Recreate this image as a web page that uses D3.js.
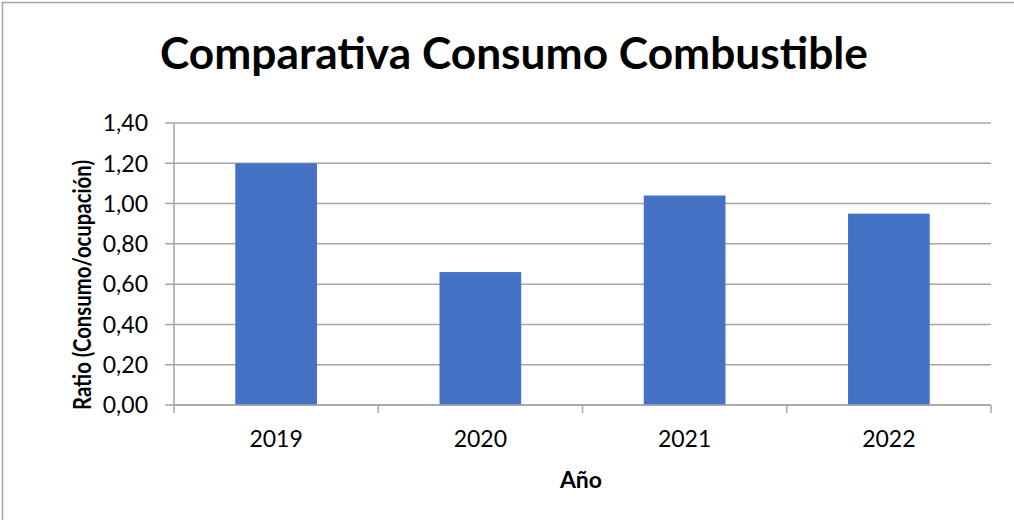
<!DOCTYPE html>
<html>
<head>
<meta charset="utf-8">
<script src="https://cdn.jsdelivr.net/npm/d3@7"></script>
<style>
  body { margin: 0; background: #fff; }
  svg { display: block; }
  text { font-family: Lato, "Open Sans", sans-serif; fill: #000; }
</style>
</head>
<body>
<svg id="svg" width="1014" height="520"></svg>
<script>
// DATA
var years = ["2019", "2020", "2021", "2022"];
var ratios = [1.20, 0.66, 1.04, 0.95];
var yTicks = [0, 0.2, 0.4, 0.6, 0.8, 1.0, 1.2, 1.4];

var svg = d3.select("#svg"),
  margin = { top: 123, right: 23, bottom: 115, left: 174 },
  width = 1014 - margin.left - margin.right,
  height = 520 - margin.top - margin.bottom;

// chart frame
svg.append("rect")
  .attr("x", 2.5).attr("y", 2.5)
  .attr("width", 1030).attr("height", 540)
  .attr("fill", "none")
  .attr("stroke", "#a6a6a6")
  .attr("stroke-width", 1.5);

var g = svg.append("g")
  .attr("transform", "translate(" + margin.left + "," + margin.top + ")");

var x = d3.scaleBand().domain(years).range([0, width]).padding(0);
var y = d3.scaleLinear().domain([0, 1.4]).range([height, 0]);

var fmt = function (d) { return d3.format(".2f")(d).replace(".", ","); };

// gridlines
g.append("g")
  .selectAll("line")
  .data(yTicks)
  .enter().append("line")
  .attr("x1", -9).attr("x2", width)
  .attr("y1", function (d) { return y(d); })
  .attr("y2", function (d) { return y(d); })
  .attr("stroke", "#a6a6a6")
  .attr("stroke-width", 1.5);

// y axis labels
g.append("g")
  .selectAll("text")
  .data(yTicks)
  .enter().append("text")
  .attr("x", -26)
  .attr("y", function (d) { return y(d); })
  .attr("dy", "0.36em")
  .attr("text-anchor", "end")
  .style("font-size", "23px")
  .text(fmt);

// y axis line
g.append("line")
  .attr("x1", 0).attr("x2", 0)
  .attr("y1", 0).attr("y2", height)
  .attr("stroke", "#a6a6a6")
  .attr("stroke-width", 1.5);

// bars
var barW = x.bandwidth() * 0.4;
g.selectAll(".bar")
  .data(ratios)
  .enter().append("rect")
  .attr("class", "bar")
  .attr("x", function (d, i) { return x(years[i]) + (x.bandwidth() - barW) / 2; })
  .attr("y", function (d) { return y(d); })
  .attr("width", barW)
  .attr("height", function (d) { return height - y(d); })
  .attr("fill", "#4472c4");

// x axis
g.append("line")
  .attr("x1", 0).attr("x2", width)
  .attr("y1", height).attr("y2", height)
  .attr("stroke", "#a6a6a6")
  .attr("stroke-width", 1.5);

var xTickPos = years.map(function (d) { return x(d); }).concat([width]);
g.append("g")
  .selectAll("line")
  .data(xTickPos)
  .enter().append("line")
  .attr("x1", function (d) { return d; })
  .attr("x2", function (d) { return d; })
  .attr("y1", height).attr("y2", height + 8)
  .attr("stroke", "#a6a6a6")
  .attr("stroke-width", 1.5);

g.append("g")
  .selectAll("text")
  .data(years)
  .enter().append("text")
  .attr("x", function (d) { return x(d) + x.bandwidth() / 2; })
  .attr("y", height + 42)
  .attr("text-anchor", "middle")
  .style("font-size", "23px")
  .text(function (d) { return d; });

// axis titles
svg.append("text")
  .attr("x", 581)
  .attr("y", 488)
  .attr("text-anchor", "middle")
  .style("font-size", "23px")
  .style("font-weight", "bold")
  .text("Año");

svg.append("text")
  .attr("transform", "translate(91,285) rotate(-90)")
  .attr("text-anchor", "middle")
  .attr("textLength", 250)
  .attr("lengthAdjust", "spacingAndGlyphs")
  .style("font-size", "25px")
  .style("font-weight", "bold")
  .text("Ratio (Consumo/ocupación)");

// title
svg.append("text")
  .attr("x", 514)
  .attr("y", 69)
  .attr("text-anchor", "middle")
  .attr("textLength", 708)
  .attr("lengthAdjust", "spacingAndGlyphs")
  .style("font-size", "43px")
  .style("font-weight", "bold")
  .text("Comparativa Consumo Combustible");
</script>
</body>
</html>
